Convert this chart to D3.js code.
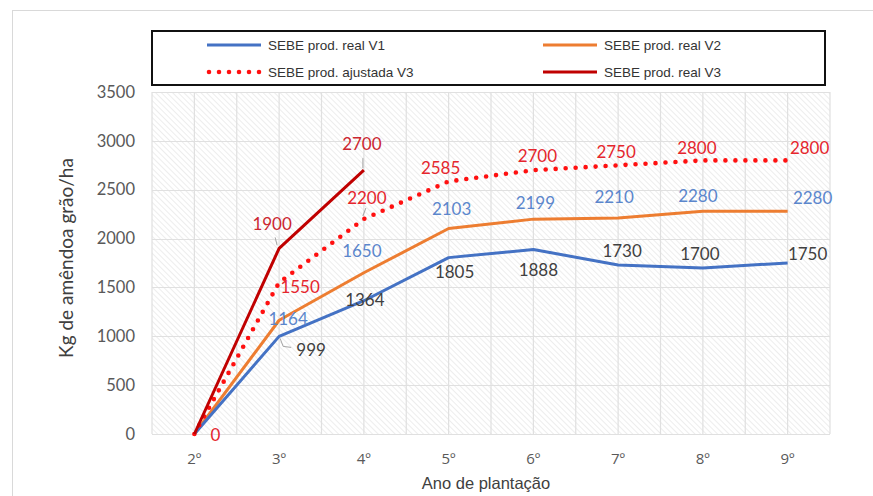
<!DOCTYPE html>
<html>
<head>
<meta charset="utf-8">
<script src="https://cdn.jsdelivr.net/npm/d3@7"></script>
<style>
  html, body { margin: 0; padding: 0; background: #fff; }
  svg { display: block; }
</style>
</head>
<body>
<svg id="chart" width="873" height="496"></svg>
<script>
// ---------- data ----------
const categories = ["2º", "3º", "4º", "5º", "6º", "7º", "8º", "9º"];
const v1Real   = [0, 999, 1364, 1805, 1888, 1730, 1700, 1750];
const v2Real   = [0, 1164, 1650, 2103, 2199, 2210, 2280, 2280];
const v3Ajust  = [0, 1550, 2200, 2585, 2700, 2750, 2800, 2800];
const v3Real   = [0, 1900, 2700];
const yTicks   = [0, 500, 1000, 1500, 2000, 2500, 3000, 3500];
const legendLabels = ["SEBE prod. real V1", "SEBE prod. real V2", "SEBE prod. ajustada V3", "SEBE prod. real V3"];
const xTitle = "Ano de plantação";
const yTitle = "Kg de amêndoa grão/ha";

// ---------- label placement (style, offsets from the point) ----------
const v1LabelOff = [null, [32, 13], [1, -1], [6, 14], [5, 20], [4, -14], [-3, -14], [20, -10]];
const v2LabelOff = [null, [9, -2], [-2, -22], [3, -20], [2, -17], [-4, -22], [-5, -16], [25, -14]];
const v3aLabelOff = [[21, 0], [21, 3.5], [3, -22], [-8, -14], [4, -15], [-2, -14], [-6, -13], [22, -13]];
const v3rLabelOff = [null, [-7, -25], [-2, -27]];

const svg = d3.select("#chart");
const plot = { left: 152, right: 830, top: 92, bottom: 434 };

// outer frame
svg.append("rect").attr("x", 12.5).attr("y", 10.5).attr("width", 900).attr("height", 600)
  .attr("fill", "#fff").attr("stroke", "#d9d9d9").attr("stroke-width", 1);

const x = d3.scaleBand().domain(categories).range([plot.left, plot.right]).padding(0);
const y = d3.scaleLinear().domain([0, 3500]).range([plot.bottom, plot.top]);
const cx = c => x(c) + x.bandwidth() / 2;

// hatch pattern
const defs = svg.append("defs");
const pat = defs.append("pattern").attr("id", "hatch").attr("patternUnits", "userSpaceOnUse")
  .attr("width", 4).attr("height", 4).attr("patternTransform", "rotate(-45)");
pat.append("rect").attr("width", 4).attr("height", 4).attr("fill", "#ffffff");
pat.append("line").attr("x1", 0).attr("y1", 0).attr("x2", 0).attr("y2", 4)
  .attr("stroke", "#e8e8e8").attr("stroke-width", 1.5);

svg.append("rect").attr("x", plot.left).attr("y", plot.top)
  .attr("width", plot.right - plot.left).attr("height", plot.bottom - plot.top)
  .attr("fill", "url(#hatch)");

// gridlines
const grid = svg.append("g").attr("stroke", "#e0e0e0").attr("stroke-width", 1.2);
grid.selectAll("line.h").data(yTicks).join("line")
  .attr("x1", plot.left).attr("x2", plot.right)
  .attr("y1", d => Math.round(y(d)) + 0.5).attr("y2", d => Math.round(y(d)) + 0.5);
const vgrid = [];
categories.forEach(c => { vgrid.push(x(c)); vgrid.push(cx(c)); });
vgrid.push(plot.right);
grid.selectAll("line.v").data(vgrid).join("line")
  .attr("x1", d => d).attr("x2", d => d)
  .attr("y1", plot.top).attr("y2", plot.bottom);

// axes (text only, like Excel)
const yAxis = svg.append("g").attr("transform", `translate(${plot.left},0)`)
  .call(d3.axisLeft(y).tickValues(yTicks).tickFormat(d3.format("d")).tickSize(0).tickPadding(17));
yAxis.select(".domain").remove();
yAxis.selectAll("text").attr("font-family", "Lato, 'Open Sans', sans-serif")
  .attr("font-size", 16.5).attr("fill", "#595959");

const xAxis = svg.append("g").attr("transform", `translate(0,${plot.bottom})`)
  .call(d3.axisBottom(x).tickSize(0).tickPadding(19));
xAxis.select(".domain").remove();
xAxis.selectAll("text").attr("font-family", "'Open Sans', 'DejaVu Sans', sans-serif")
  .attr("font-size", 15).attr("fill", "#595959");

svg.append("text").attr("x", 486).attr("y", 489).attr("text-anchor", "middle")
  .attr("font-family", "'Liberation Sans Narrow', 'Liberation Sans', Arial, sans-serif")
  .attr("font-size", 16.5).attr("fill", "#404040").text(xTitle);

svg.append("text").attr("transform", "translate(73,258) rotate(-90)").attr("text-anchor", "middle")
  .attr("font-family", "Lato, 'Open Sans', sans-serif")
  .attr("font-size", 19).attr("fill", "#404040").text(yTitle);

// lines
const line = d3.line().x((d, i) => cx(categories[i])).y(d => y(d));
const series = [
  { data: v2Real, color: "#ED7D31", dash: null, w: 3 },
  { data: v1Real, color: "#4472C4", dash: null, w: 3 },
  { data: v3Ajust, color: "#FF1010", dash: "0 10", w: 4.6, cap: "round" },
  { data: v3Real, color: "#C00000", dash: null, w: 3 }
];
series.forEach(s => {
  svg.append("path").datum(s.data).attr("d", line)
    .attr("fill", "none").attr("stroke", s.color).attr("stroke-width", s.w)
    .attr("stroke-linecap", s.cap || "butt").attr("stroke-linejoin", "round")
    .attr("stroke-dasharray", s.dash);
});

// leader lines
const leaders = [
  { cat: 1, val: v1Real[1], pts: [[1, 2], [4, 10], [12, 11]] },
  { cat: 1, val: v3Real[1], pts: [[-2, -3], [-4, -11]] },
  { cat: 2, val: v3Real[2], pts: [[-1, -2], [-1, -12]] },
  { cat: 2, val: v3Ajust[2], pts: [[-1, -3], [2, -11]] }
];
leaders.forEach(l => {
  const px = cx(categories[l.cat]), py = y(l.val);
  svg.append("path").attr("d", d3.line()(l.pts.map(p => [px + p[0], py + p[1]])))
    .attr("fill", "none").attr("stroke", "#a6a6a6").attr("stroke-width", 1);
});

// data labels
function labels(data, offs, color) {
  svg.append("g").selectAll("text").data(data.map((v, i) => ({ v, i })).filter(d => offs[d.i]))
    .join("text")
    .attr("x", d => cx(categories[d.i]) + offs[d.i][0])
    .attr("y", d => y(d.v) + offs[d.i][1])
    .attr("text-anchor", "middle").attr("dominant-baseline", "central")
    .attr("font-family", "Lato, 'Open Sans', sans-serif").attr("font-size", 17)
    .attr("fill", color).text(d => d.v);
}
labels(v1Real, v1LabelOff, "#404040");
labels(v2Real, v2LabelOff, "#5B86CC");
labels(v3Ajust, v3aLabelOff, "#E5262D");
labels(v3Real, v3rLabelOff, "#CC2630");

// legend
const lg = svg.append("g");
lg.append("rect").attr("x", 152).attr("y", 31).attr("width", 673).attr("height", 54)
  .attr("fill", "#fff").attr("stroke", "#111").attr("stroke-width", 2);
const legendItems = [
  { label: legendLabels[0], color: "#4472C4", dash: null, x: 207, y: 45 },
  { label: legendLabels[1], color: "#ED7D31", dash: null, x: 543, y: 45 },
  { label: legendLabels[2], color: "#FF1010", dash: "0 10", x: 207, y: 72 },
  { label: legendLabels[3], color: "#C00000", dash: null, x: 543, y: 72 }
];
legendItems.forEach(it => {
  lg.append("line").attr("x1", it.dash ? it.x + 2 : it.x).attr("x2", it.x + 54)
    .attr("y1", it.y).attr("y2", it.y)
    .attr("stroke", it.color).attr("stroke-width", it.dash ? 4.6 : 3.2)
    .attr("stroke-linecap", it.dash ? "round" : "butt").attr("stroke-dasharray", it.dash);
  lg.append("text").attr("x", it.x + 61).attr("y", it.y).attr("dominant-baseline", "central")
    .attr("font-family", "'Liberation Sans', Arial, sans-serif").attr("font-size", 13.5)
    .attr("fill", "#333").text(it.label);
});
</script>
</body>
</html>
